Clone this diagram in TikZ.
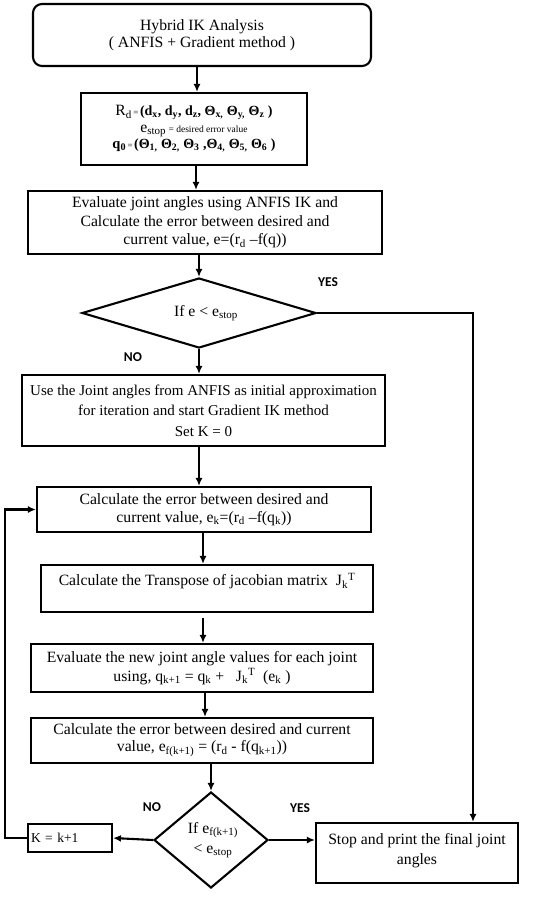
\documentclass[tikz,border=0pt]{standalone}
\usepackage{fontspec}
\setmainfont{Liberation Serif}
\newfontfamily\lblfont{Carlito}
\usetikzlibrary{shapes.geometric,arrows.meta}
\newcommand\sbs[1]{\textsubscript{#1}}
\newcommand\sps[1]{\textsuperscript{#1}}
\begin{document}
\begin{tikzpicture}[x=1pt,y=-1pt,
  box/.style={draw,line width=2.1pt,inner sep=0pt,align=center,font=\fontsize{15.7}{18.5}\selectfont},
  dia/.style={draw,diamond,line width=2.1pt,inner sep=0pt,align=center,font=\fontsize{15.7}{18.5}\selectfont},
  arr/.style={line width=2.1pt,-{Latex[length=8pt,width=7pt]}},
  lbl/.style={font=\lblfont\bfseries\fontsize{13.5}{15}\selectfont,inner sep=0pt}]
\path[use as bounding box] (0,0) rectangle (550,897);
% boxes
\node[box,minimum width=338pt,minimum height=62pt,rounded corners=9pt,font=\fontsize{15.7}{17}\selectfont] (b1) at (202,35)
  {Hybrid IK Analysis\\( ANFIS + Gradient method )};
\node[box,minimum width=226pt,minimum height=72pt] (b2) at (194,129)
  {R\sbs{d}{\fontsize{9}{11}\selectfont\,=\,}{\bfseries\fontsize{14}{17}\selectfont(d\sbs{x}, d\sbs{y}, d\sbs{z}, Θ\sbs{x,} Θ\sbs{y,} Θ\sbs{z} )}\\[-2pt]
   e\sbs{stop}{\fontsize{9.5}{11}\selectfont\ = desired error value}\\[-2pt]
   {\bfseries\fontsize{14.5}{17}\selectfont q\sbs{0}}{\fontsize{9}{11}\selectfont\,=\,}{\bfseries\fontsize{14}{17}\selectfont(Θ\sbs{1,} Θ\sbs{2,} Θ\sbs{3} ,Θ\sbs{4,} Θ\sbs{5,} Θ\sbs{6} )}};
\node[box,minimum width=354pt,minimum height=63pt] (b3) at (205,222.5)
  {Evaluate joint angles using ANFIS IK and\\Calculate the error between desired and\\current value, e=(r\sbs{d} –f(q))};
\node[dia,minimum width=234pt,minimum height=70pt,aspect=3.3] (d1) at (199,313)
  {\hspace*{14pt}If e {\textless} e\sbs{stop}};
\node[box,minimum width=363pt,minimum height=71pt,font=\fontsize{15}{20.5}\selectfont] (b4) at (203.5,410.5)
  {Use the Joint angles from ANFIS as initial approximation\\for iteration and start Gradient IK method\\Set K = 0};
\node[box,minimum width=334pt,minimum height=45pt,font=\fontsize{15.7}{17.5}\selectfont] (b5) at (204,509.5)
  {Calculate the error between desired and\\current value, e\sbs{k}=(r\sbs{d} –f(q\sbs{k}))};
\node[box,minimum width=332pt,minimum height=47pt] (b6) at (207,588.5)
  {Calculate the Transpose of jacobian matrix\ \ J\sbs{k}\sps{T}\\\mbox{}};
\node[box,minimum width=342pt,minimum height=48pt] (b7) at (202,668)
  {Evaluate the new joint angle values for each joint\\using, q\sbs{k+1} = q\sbs{k} +\ \ \ J\sbs{k}\sps{T}\ \ (e\sbs{k} )};
\node[box,minimum width=342pt,minimum height=45pt,font=\fontsize{15.7}{17}\selectfont] (b8) at (202,740.5)
  {Calculate the error between desired and current\\value, e\sbs{f(k+1)} = (r\sbs{d} - f(q\sbs{k+1}))};
\node[dia,minimum width=114pt,minimum height=96pt,aspect=1.2] (d2) at (211,840)
  {\hspace*{4pt}If e\sbs{f(k+1)}\\[2pt]\hspace*{4pt}{\textless} e\sbs{stop}};
\node[box,minimum width=84pt,minimum height=28pt,align=left,text width=78pt,font=\fontsize{13.5}{15}\selectfont] (bk) at (70,838)
  {K = k+1};
\node[box,minimum width=202pt,minimum height=60pt,font=\fontsize{15.7}{20}\selectfont] (bs) at (417,853)
  {Stop and print the final joint\\angles\\[-12pt]\mbox{}};
% labels
\node[lbl] (yes1) at (328,282) {YES};
\node[lbl] (no1) at (133,357) {NO};
\node[lbl] (no2) at (152,807) {NO};
\node[lbl] (yes2) at (300,808) {YES};
% helper coordinates
\coordinate (x197) at (197,0);
\coordinate (x196) at (196,0);
\coordinate (x203) at (203,0);
\coordinate (x205) at (205,0);
\coordinate (xR) at (473,0);
\coordinate (xL) at (5,0);
\coordinate (g6) at (0,618);
% connectors
\draw[arr] (b1.south -| x197) -- (b2.north -| x197);
\draw[arr] (b2.south -| x196) -- (b3.north -| x196);
\draw[arr] (b3.south -| d1.north) -- (d1.north);
\draw[arr] (d1.south) -- (b4.north -| d1.south);
\draw[arr] (d1.east) -| (xR |- bs.north);
\draw[arr] (b4.south -| d1.south) -- (b5.north -| d1.south);
\draw[arr] (b5.south -| x203) -- (b6.north -| x203);
\draw[arr] (g6 -| x203) -- (b7.north -| x203);
\draw[arr] (b7.south -| x205) -- (b8.north -| x205);
\draw[arr] (b8.south -| d2.north) -- (d2.north);
\draw[arr] (d2.west) -- (bk.east);
\draw[arr] (bk.west) -- (xL |- bk.west) -- (xL |- b5.west) -- (b5.west);
\draw[arr] (d2.east) -- (bs.west |- d2.east);
\end{tikzpicture}
\end{document}
